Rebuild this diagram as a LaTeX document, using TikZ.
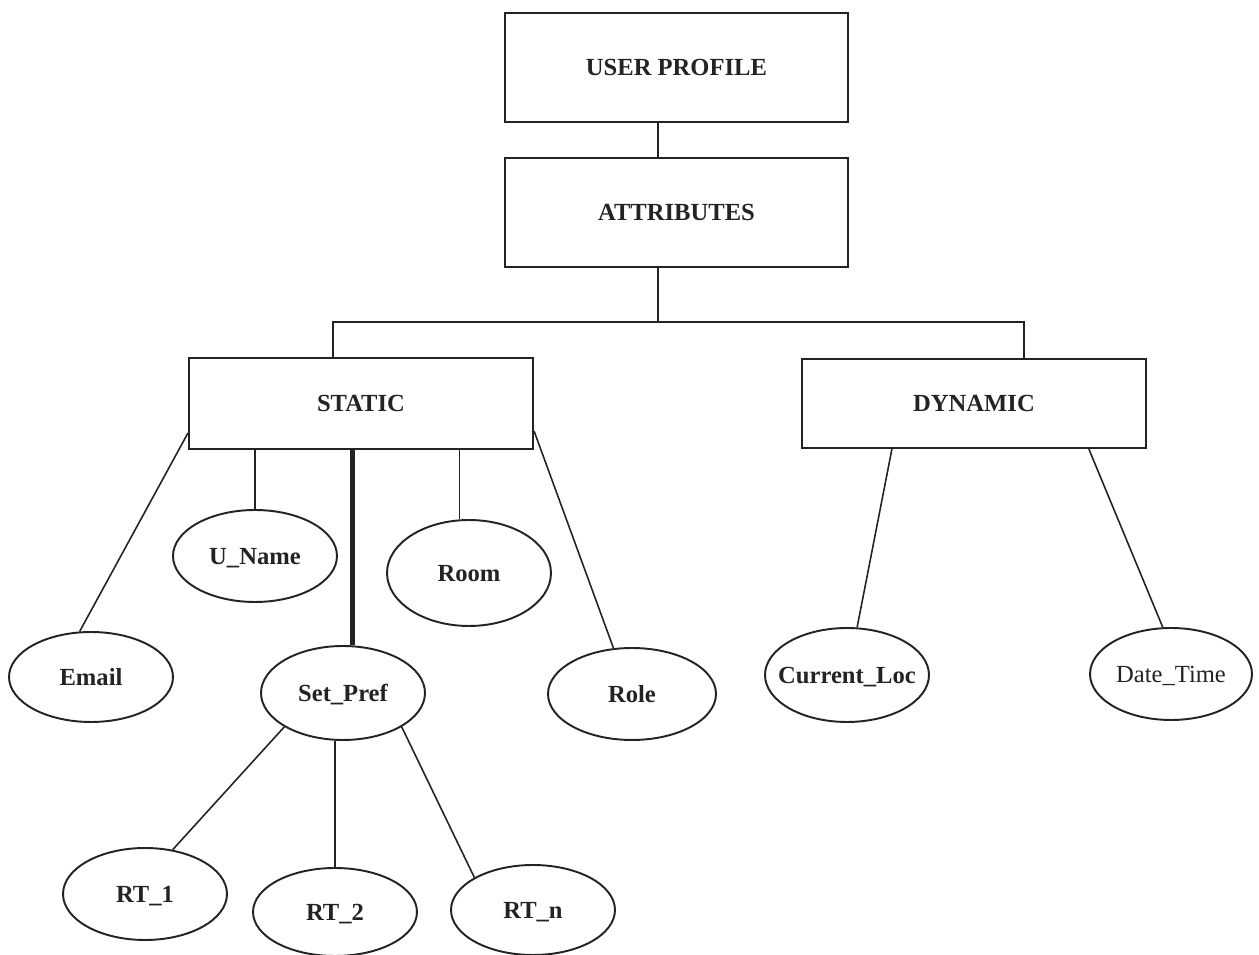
\documentclass[tikz,border=0pt]{standalone}
\usepackage{fontspec}
\setmainfont{Liberation Serif}
\usetikzlibrary{shapes.geometric,calc}
\definecolor{ink}{RGB}{35,35,35}
% keep oval labels from widening their ellipses
\newcommand{\ovaltext}[1]{\makebox[0pt]{#1}}

\begin{document}
\begin{tikzpicture}[x=0.02cm,y=-0.02cm,
  every node/.style={font=\fontsize{14}{16}\selectfont\bfseries, text=ink,
                     text height=9.3pt, text depth=0pt},
  box/.style={draw=ink, line width=1.3pt, rectangle, minimum width=6.86cm,
              minimum height=2.18cm, inner sep=0pt},
  oval/.style={draw=ink, line width=1.1pt, ellipse, minimum width=3.28cm,
               minimum height=1.84cm, inner sep=0pt},
  link/.style={draw=ink, line width=0.9pt},
  boldlink/.style={draw=ink, line width=2.8pt}]
\useasboundingbox (0,0) rectangle (1259,955);

% hierarchy boxes
\node[box] (profile) at (676.5,67.5) {USER PROFILE};
\node[box] (attrs)   at (676.5,212.5) {ATTRIBUTES};
\node[box, minimum width=6.88cm, minimum height=1.82cm] (static)  at (361,403.5) {STATIC};
\node[box, minimum width=6.88cm, minimum height=1.78cm] (dynamic) at (974,403.5) {DYNAMIC};

% static attributes
\node[oval, minimum height=1.80cm] (email)   at (91,677)  {\ovaltext{Email}};
\node[oval]                        (uname)   at (255,556) {\ovaltext{U\_Name}};
\node[oval, minimum height=2.12cm] (room)    at (469,573) {\ovaltext{Room}};
\node[oval, minimum height=1.88cm] (setpref) at (343,693) {\ovaltext{Set\_Pref}};
\node[oval, minimum width=3.36cm]  (role)    at (632,694) {\ovaltext{Role}};

% dynamic attributes
\node[oval, minimum height=1.88cm] (curloc)   at (847,675)  {\ovaltext{Current\_Loc}};
\node[oval, minimum width=3.24cm, font=\fontsize{14}{16}\selectfont\mdseries]
                                   (datetime) at (1171,674) {\ovaltext{Date\_Time}};

% preference entries
\node[oval]                        (rt1) at (145,894) {\ovaltext{RT\_1}};
\node[oval, minimum height=1.76cm] (rt2) at (335,912) {\ovaltext{RT\_2}};
\node[oval, minimum height=1.80cm] (rtn) at (533,910) {\ovaltext{RT\_n}};

% trunk and bus
\coordinate (busM) at (658,322);
\coordinate (busL) at (333,322);
\coordinate (busR) at (1024,322);
\draw[link] (profile.south -| busM) -- (attrs.north -| busM);
\draw[link] (attrs.south -| busM) -- (busM);
\draw[link] (static.north -| busL) -- (busL) -- (busR) -- (dynamic.north -| busR);

% static branches
\draw[link] ($(static.south west)+(0,-17)$) -- (email.104);
\draw[link] (static.south -| uname.north) -- (uname.north);
\draw[boldlink] (static.south -| setpref.79) -- (setpref.79);
\draw[link] (static.south -| room.100) -- (room.100);
\draw[link] ($(static.south east)+(0,-19)$) -- (role.112);

% dynamic branches
\draw[link] ($(dynamic.south west)+(91,0)$) -- (curloc.78);
\draw[link] ($(dynamic.south west)+(288,0)$) -- (datetime.100);

% preference branches
\draw[link] (setpref.210) -- (rt1.58);
\draw[link] (setpref.south -| rt2.north) -- (rt2.north);
\draw[link] (setpref.330) -- (rtn.151);
\end{tikzpicture}
\end{document}
